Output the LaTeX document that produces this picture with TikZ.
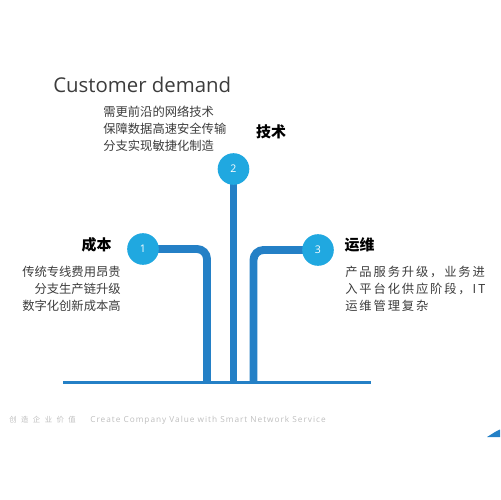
\documentclass[tikz,border=0pt]{standalone}
\usepackage{fontspec}
\usetikzlibrary{backgrounds}
\setmainfont{Open Sans}
\newfontfamily\cjk{Noto Sans CJK SC}
\newfontfamily\cjkwide[LetterSpace=15]{Noto Sans CJK SC}
\newfontfamily\cjkfoot[LetterSpace=60]{Noto Sans CJK SC}
\newfontfamily\latinfoot[LetterSpace=12]{Open Sans}
\definecolor{barblue}{RGB}{36,128,198}
\definecolor{dotblue}{RGB}{32,168,224}
\definecolor{textgray}{RGB}{60,60,60}
\definecolor{footgray}{RGB}{190,190,190}
\tikzset{
  bar/.style={draw=barblue,line width=4.5pt,rounded corners=5.7pt},
  dot/.style={circle,fill=dotblue,minimum size=18pt,inner sep=0pt,text=white,font=\fontsize{6}{7}\selectfont},
  head/.style={font=\cjk\bfseries\fontsize{8.5}{10}\selectfont,text=black},
  body/.style={font=\cjk\fontsize{7}{9.6}\selectfont,text=textgray,inner sep=0pt},
  foot/.style={anchor=west,inner sep=0pt,text=footgray},
}
\begin{document}
\begin{tikzpicture}[x=0.02cm,y=-0.02cm]
  \useasboundingbox (0,0) rectangle (500,500);
  %
  \coordinate (baseL) at (63,382.5);
  \coordinate (baseR) at (371,382.5);
  \draw[barblue,line width=1.7pt] (baseL) -- (baseR);
  %
  \node[dot] (c1) at (143,249) {1};
  \node[dot] (c2) at (233.5,169) {2};
  \node[dot] (c3) at (318,250) {3};
  %
  \coordinate (b1) at (207,381);
  \coordinate (b2) at (233.5,381);
  \coordinate (b3) at (253.5,381);
  \begin{scope}[on background layer]
    \draw[bar] (b1) |- (c1.center);
    \draw[bar] (b2) -- (c2.center);
    \draw[bar] (b3) |- (c3.center);
  \end{scope}
  %
  \node[anchor=west,text=textgray,font=\fontsize{11.6}{14}\selectfont,inner sep=0pt] (title) at (53,85) {Customer demand};
  \node[body,anchor=north west,align=left] (txt2) at (103,106) {需更前沿的网络技术\\保障数据高速安全传输\\分支实现敏捷化制造};
  \node[head] (h2) at (271,132) {技术};
  \node[head] (h1) at (96.5,245) {成本};
  \node[head] (h3) at (359.5,245) {运维};
  \node[body,anchor=north east,align=right] (txt1) at (121,266) {传统专线费用昂贵\\分支生产链升级\\数字化创新成本高};
  \node[body,anchor=north west,align=left,font=\cjkwide\fontsize{7}{9.6}\selectfont] (txt3) at (345,266) {产品服务升级，业务进\\入平台化供应阶段，IT\\运维管理复杂};
  %
  \node[foot,font=\cjkfoot\fontsize{4.2}{5}\selectfont] (foot1) at (9,420) {创造企业价值};
  \node[foot,font=\latinfoot\fontsize{4.7}{5}\selectfont] (foot2) at (90,420) {Create Company Value with Smart Network Service};
  %
  \fill[barblue] (487,437) .. controls (492,434) and (496,431) .. (500,429.5) -- (500,437) -- cycle;
\end{tikzpicture}
\end{document}
